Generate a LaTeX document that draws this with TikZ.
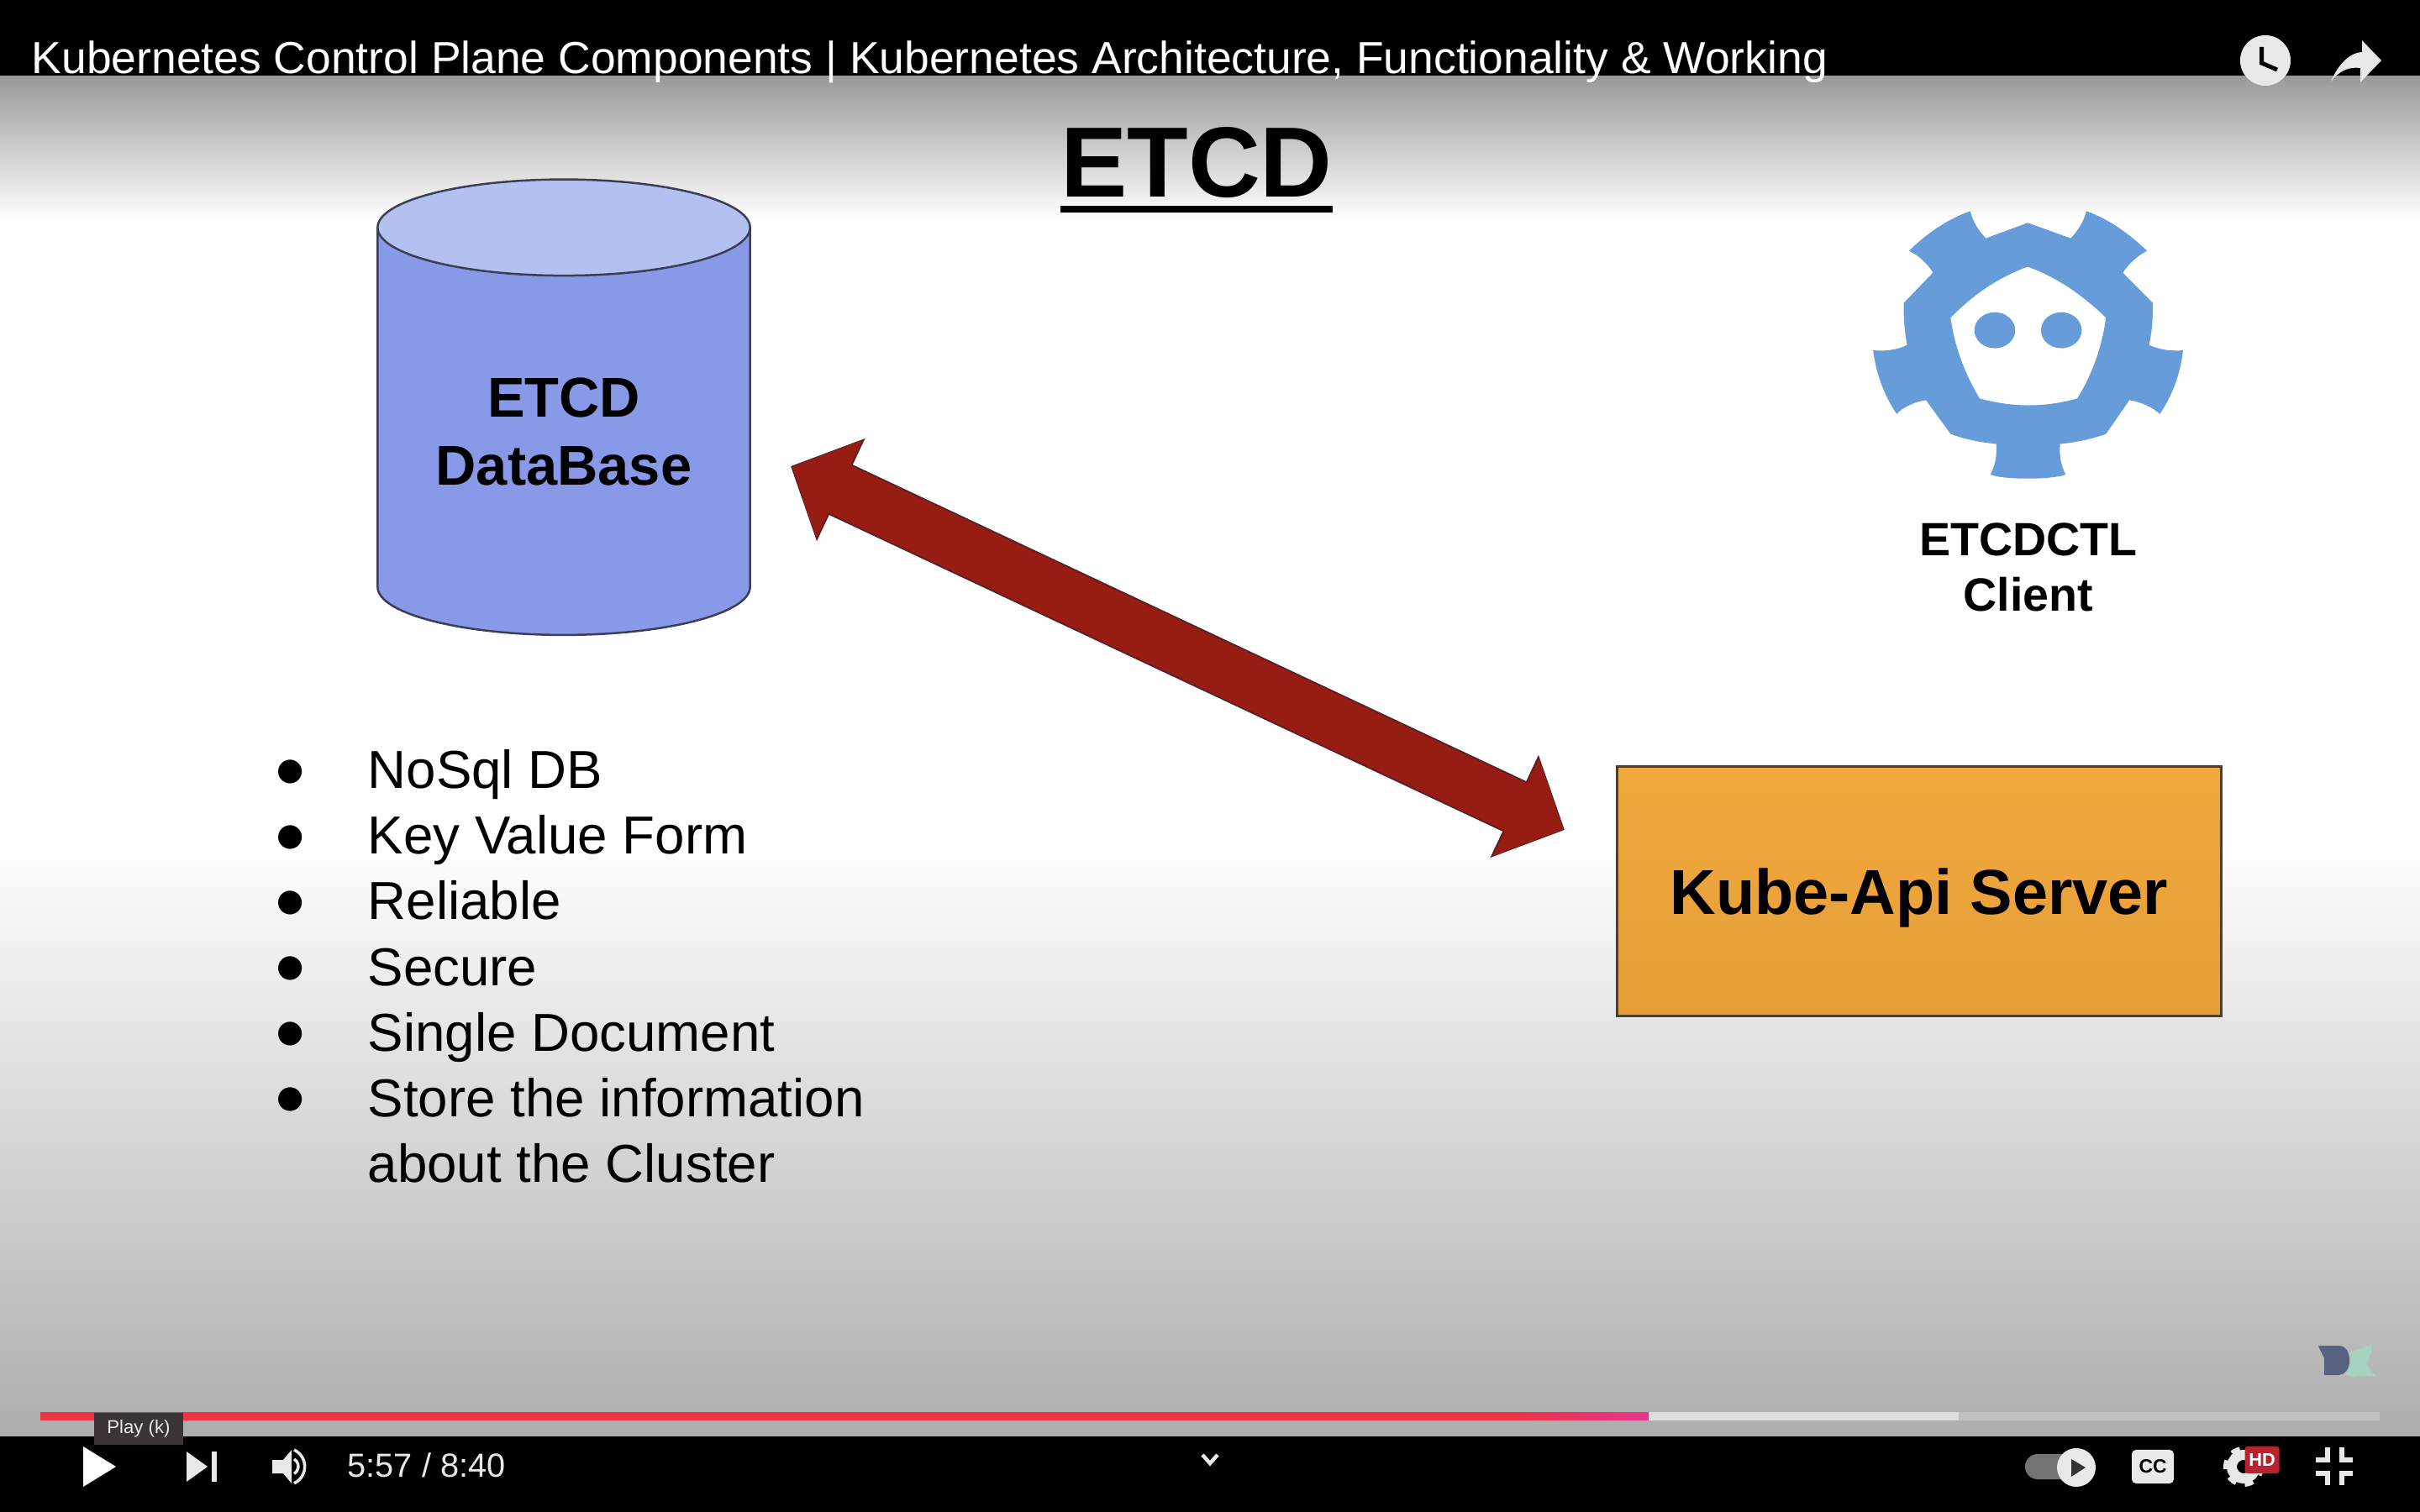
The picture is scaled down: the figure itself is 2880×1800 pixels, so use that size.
\documentclass[tikz,border=0pt]{standalone}
\usepackage{fontspec}
\setmainfont{Liberation Sans}
\newfontfamily\dotfont{DejaVu Sans}
\usetikzlibrary{shapes.geometric, positioning, arrows.meta, calc}
\definecolor{barblack}{HTML}{000000}
\definecolor{iconwhite}{HTML}{E8E8E8}
\definecolor{logoblue}{HTML}{659CD9}
\definecolor{dbbody}{HTML}{8899E8}
\definecolor{dbtop}{HTML}{B3C1F0}
\definecolor{dbline}{HTML}{3A3F55}
\definecolor{arrowred}{HTML}{971C11}
\definecolor{arrowdark}{HTML}{5A2028}
\definecolor{boxline}{HTML}{4A4030}
\definecolor{boxtop}{HTML}{F1A93E}
\definecolor{boxbottom}{HTML}{E59D37}
\definecolor{barred}{HTML}{EE3340}
\definecolor{barpink}{HTML}{E6358D}
\definecolor{markblue}{HTML}{56627F}
\definecolor{markgreen}{HTML}{A6D2C0}
\begin{document}
\begin{tikzpicture}[
        x=0.01cm, y=-0.01cm,
        titlefont/.style={font=\fontsize{33.8}{40}\selectfont\bfseries},
        dbnode/.style={cylinder, shape border rotate=90, aspect=0.376, minimum width=4.43cm, minimum height=5.42cm, inner sep=0pt, draw=dbline, line width=0.025cm, cylinder uses custom fill, cylinder body fill=dbbody, cylinder end fill=dbtop, align=center, font=\fontsize{19}{23}\selectfont\bfseries},
        apinode/.style={rectangle, minimum width=7.18cm, minimum height=2.96cm, text centered, text depth=0pt, draw=boxline, line width=0.03cm, top color=boxtop, bottom color=boxbottom, font=\fontsize{21.5}{26}\selectfont\bfseries},
        clientlabel/.style={align=center, inner sep=0pt, font=\fontsize{15.8}{18.8}\selectfont\bfseries},
        listtext/.style={align=left, inner sep=0pt, anchor=north west, font=\fontsize{18.1}{22.2}\selectfont},
        listdots/.style={align=center, inner sep=0pt, anchor=north, font=\dotfont\fontsize{10.5}{22.2}\selectfont},
        bigarrowedge/.style={draw=arrowdark, line width=0.66cm, arrows={Triangle[length=0.66cm, width=1.31cm, color=arrowdark]-Triangle[length=0.66cm, width=1.31cm, color=arrowdark]}},
        bigarrow/.style={draw=arrowred, line width=0.62cm, shorten <=0.02cm, shorten >=0.02cm, arrows={Triangle[length=0.62cm, width=1.25cm, color=arrowred]-Triangle[length=0.62cm, width=1.25cm, color=arrowred]}},
        barlabel/.style={text=white, inner sep=0pt, anchor=base west, font=\fontsize{15.2}{18}\selectfont},
        timelabel/.style={text=iconwhite, inner sep=0pt, anchor=base west, font=\fontsize{11.3}{13}\selectfont},
        icon/.style={fill=iconwhite, draw=none},
        iconline/.style={draw=iconwhite, line width=0.055cm}
    ]
        \useasboundingbox (0,0) rectangle (2880,1800);

        % ===== background =====
        \shade [top color=white!60!black, bottom color=white] (0,90) rectangle (2880,262);
        \fill [white] (0,262) rectangle (2880,1000);
        \shade [top color=white, bottom color=white!68!black] (0,1000) rectangle (2880,1710);
        \fill [barblack] (0,0) rectangle (2880,90);
        \fill [barblack] (0,1710) rectangle (2880,1800);

        % ===== slide =====
        \node (slidetitle) [titlefont, inner sep=0pt, anchor=base] at (1424,235) {ETCD};
        \draw [line width=0.075cm] ($(slidetitle.base west)+(0,14)$) -- ($(slidetitle.base east)+(0,14)$);

        \node (etcddb) [dbnode] at (671,514) {ETCD\\DataBase};
        \node (apiserver) [apinode] at (2284,1061) {Kube-Api Server};

        \coordinate (dbport) at (941,555);
        \coordinate (apiport) at (1862,988);
        \draw [bigarrowedge] (dbport) -- (apiport);
        \draw [bigarrow] (dbport) -- (apiport);

        \node (features) [listtext] at (437,892) {NoSql DB\\Key Value Form\\Reliable\\Secure\\Single Document\\Store the information\\about the Cluster};
        \node (featuredots) [listdots] at (346,904) {●\\●\\●\\●\\●\\●};

        % logo
        \begin{scope}[shift={(2150,0)}, x=0.004656cm, y=-0.004974cm]
            \fill [logoblue, even odd rule] (565,533) -- (675,570) .. controls (695,550) and (708,530) .. (715,505)
                .. controls (775,525) and (825,560) .. (870,600) .. controls (845,612) and (825,630) .. (808,652)
                -- (885,725) .. controls (885,760) and (883,795) .. (875,825) .. controls (905,838) and (935,840) .. (962,838)
                .. controls (955,895) and (935,945) .. (903,990) .. controls (880,972) and (855,962) .. (825,957)
                -- (765,1038) .. controls (730,1050) and (690,1058) .. (648,1062) .. controls (645,1090) and (650,1112) .. (662,1135)
                .. controls (630,1148) and (500,1148) .. (470,1135) .. controls (482,1112) and (487,1090) .. (485,1062)
                .. controls (442,1058) and (402,1050) .. (368,1038) -- (305,957) .. controls (275,962) and (250,972) .. (230,990)
                .. controls (198,945) and (178,895) .. (170,838) .. controls (200,840) and (230,838) .. (257,825)
                .. controls (250,795) and (248,760) .. (248,725) -- (323,652) .. controls (308,630) and (288,612) .. (262,600)
                .. controls (305,560) and (358,525) .. (418,505) .. controls (425,530) and (438,550) .. (458,570) -- cycle
                (565,638) .. controls (645,665) and (710,710) .. (765,760) .. controls (755,830) and (730,895) .. (692,953)
                .. controls (610,975) and (525,975) .. (442,953) .. controls (405,895) and (378,830) .. (368,760)
                .. controls (420,710) and (485,665) .. (565,638) -- cycle;
            \fill [logoblue] (481,790) ellipse [x radius=52, y radius=43];
            \fill [logoblue] (651,790) ellipse [x radius=52, y radius=43];
        \end{scope}
        \node (client) [clientlabel] at (2414,675) {ETCDCTL\\Client};

        % ===== top bar =====
        \node (videotitle) [barlabel] at (37,88) {Kubernetes Control Plane Components | Kubernetes Architecture, Functionality \& Working};
        \node (clock) [icon, circle, minimum size=0.6cm, inner sep=0pt] at (2696,72) {};
        \draw [black, line width=0.05cm] (2691.5,56) -- (2691.5,75) -- (2710,83);
        \fill [iconwhite] (2774,97) .. controls (2782,78) and (2795,63) .. (2811,62) -- (2811,48) -- (2834,72) -- (2809,98) -- (2809,81) .. controls (2795,79) and (2783,85) .. (2774,97) -- cycle;

        % ===== progress bar =====
        \fill [white!76!black] (48,1681) rectangle (2832,1691);
        \fill [white!87!black] (48,1681) rectangle (2331,1691);
        \fill [barred] (48,1681) rectangle (1790,1691);
        \shade [left color=barred, right color=barpink] (1790,1681) rectangle (1962,1690);
        \node (tooltip) [fill={rgb,255:red,60;green,52;blue,54}, text=iconwhite, minimum width=1.06cm, minimum height=0.37cm, inner sep=0pt, font=\fontsize{6.3}{8}\selectfont] at (165,1701) {Play (k)};

        % ===== player controls =====
        \fill [white] (99,1722) -- (138,1746) -- (99,1770) -- cycle;
        \fill [iconwhite] (222,1728) -- (247,1746) -- (222,1764) -- cycle;
        \fill [iconwhite] (252,1728) rectangle (258,1764);
        \fill [iconwhite] (324,1738) -- (337,1738) -- (347,1726) -- (347,1766) -- (337,1754) -- (324,1754) -- cycle;
        \draw [iconwhite, line width=0.035cm] (350,1737) arc [start angle=-60, end angle=60, radius=10];
        \draw [iconwhite, line width=0.035cm] (350,1726) arc [start angle=-65, end angle=65, radius=22];
        \node (timecode) [timelabel] at (413,1758) {5:57 / 8:40};
        \draw [iconwhite, line width=0.045cm] (1431,1732) -- (1440,1742) -- (1449,1732);

        \fill [white!45!black, rounded corners=0.15cm] (2410,1731) rectangle (2470,1761);
        \node (autoplay) [icon, circle, minimum size=0.46cm, inner sep=0pt] at (2471,1747) {};
        \fill [black!80] (2465,1737) -- (2482,1747) -- (2465,1758) -- cycle;
        \node (captions) [icon, rounded corners=0.05cm, minimum width=0.5cm, minimum height=0.4cm, inner sep=0pt, text=black, font=\fontsize{6.5}{8}\selectfont\bfseries] at (2562,1746) {CC};
        \draw [iconwhite, line width=0.08cm, dash pattern=on 0.1cm off 0.1cm] (2670,1746) circle [radius=20];
        \draw [iconwhite, line width=0.12cm] (2670,1746) circle [radius=14];
        \node (hdbadge) [fill={rgb,255:red,184;green,35;blue,47}, rounded corners=0.03cm, minimum width=0.41cm, minimum height=0.32cm, inner sep=0pt, text=white, font=\fontsize{6.2}{8}\selectfont\bfseries] at (2692,1738) {HD};
        \draw [iconline] (2756,1738) -- (2770,1738) -- (2770,1723);
        \draw [iconline] (2800,1738) -- (2787,1738) -- (2787,1723);
        \draw [iconline] (2756,1754) -- (2770,1754) -- (2770,1768);
        \draw [iconline] (2800,1754) -- (2787,1754) -- (2787,1768);

        % watermark
        \fill [markgreen] (2796,1610) .. controls (2806,1606) and (2815,1605) .. (2823,1599) .. controls (2822,1610) and (2820,1618) .. (2816,1622) .. controls (2820,1630) and (2824,1635) .. (2828,1638) -- (2806,1638) .. controls (2800,1640) and (2795,1638) .. (2791,1636) .. controls (2797,1630) and (2799,1620) .. (2796,1610) -- cycle;
        \fill [markblue] (2759,1602) -- (2783,1602) .. controls (2792,1602) and (2796,1610) .. (2796,1620) .. controls (2796,1630) and (2790,1637) .. (2783,1637) -- (2766,1637) -- (2766,1617) .. controls (2764,1612) and (2761,1608) .. (2759,1602) -- cycle;
    \end{tikzpicture}
\end{document}
